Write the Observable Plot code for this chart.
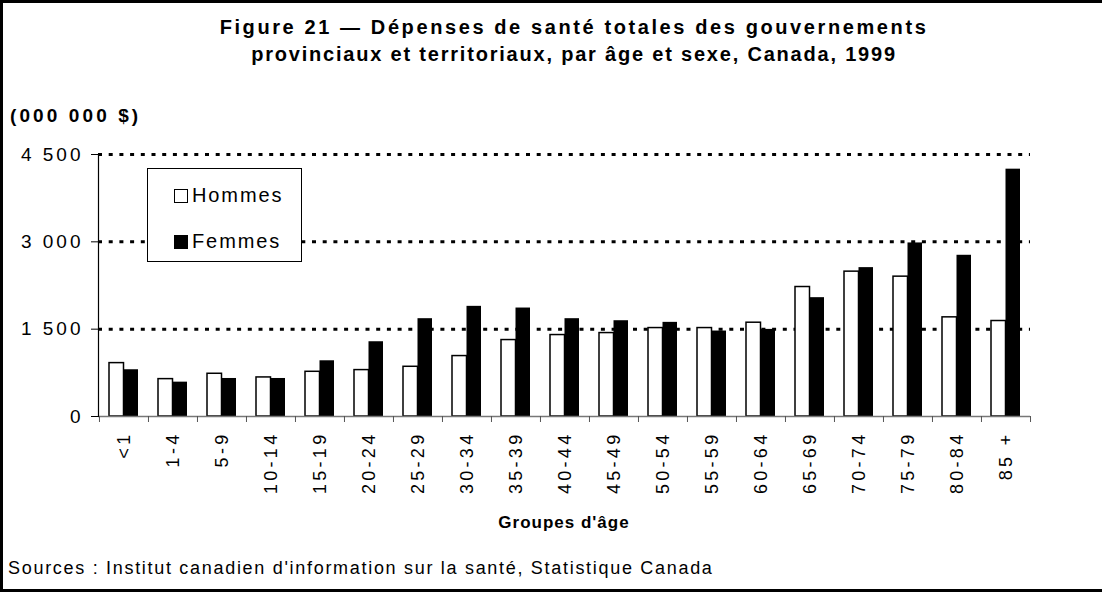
<!DOCTYPE html>
<html>
<head>
<meta charset="utf-8">
<script src="https://cdn.jsdelivr.net/npm/d3@7"></script>
<script src="https://cdn.jsdelivr.net/npm/@observablehq/plot@0.6"></script>
<style>
  html, body { margin: 0; padding: 0; background: white; }
  #wrap { position: relative; width: 1102px; height: 592px; box-sizing: border-box;
    border-left: 3px solid black; border-top: 3px solid black; border-bottom: 3px solid black;
    font-family: "Liberation Sans", Arial, sans-serif; overflow: hidden; }
  #chart { position: absolute; left: -3px; top: -3px; }
  .title { position: absolute; left: 0; width: 1142px; top: 11px; text-align: center;
    font-weight: bold; font-size: 20px; line-height: 27px; letter-spacing: 1.8px; }
  .title .l1 { letter-spacing: 2.6px; }
  .unit { position: absolute; left: 7px; top: 102px; font-weight: bold; font-size: 19px; letter-spacing: 3.1px; }
  .xlabel { position: absolute; left: 461px; width: 200px; text-align: center; top: 510px; font-weight: bold; font-size: 17px; letter-spacing: 1px; }
  .source { position: absolute; left: 5px; top: 555px; font-size: 18px; letter-spacing: 1.7px; }
  .legend { position: absolute; left: 144px; top: 165px; width: 155px; height: 94px; box-sizing: border-box;
    border: 1.5px solid black; background: white; font-size: 20px; letter-spacing: 1.9px; }
  .legend .item { position: absolute; left: 26px; height: 22px; line-height: 22px; }
  .legend .sw { display: inline-block; width: 14px; height: 14px; box-sizing: border-box; border: 1.5px solid black; vertical-align: -1px; margin-right: 4px; }
  .chart g[aria-label="x-axis tick label"] text { letter-spacing: 3.3px; font-size: 18px; }
  .chart g[aria-label="y-axis tick label"] text { letter-spacing: 3px; font-size: 19px; }
</style>
</head>
<body>
<div id="wrap">
  <div id="chart"></div>
  <div class="title"><span class="l1">Figure 21 — Dépenses de santé totales des gouvernements</span><br>provinciaux et territoriaux, par âge et sexe, Canada, 1999</div>
  <div class="unit">(000 000 $)</div>
  <div class="legend">
    <div class="item" style="top:15px"><span class="sw" style="background:white"></span>Hommes</div>
    <div class="item" style="top:61px"><span class="sw" style="background:black"></span>Femmes</div>
  </div>
  <div class="xlabel">Groupes d'âge</div>
  <div class="source">Sources : Institut canadien d'information sur la santé, Statistique Canada</div>
</div>
<script>
const ages = ["<1","1-4","5-9","10-14","15-19","20-24","25-29","30-34","35-39","40-44","45-49","50-54","55-59","60-64","65-69","70-74","75-79","80-84","85 +"];
const hommes = [917,642,734,671,768,797,854,1038,1313,1399,1433,1519,1519,1611,2224,2488,2402,1703,1640];
const femmes = [803,590,653,653,957,1284,1680,1892,1863,1680,1645,1617,1468,1496,2041,2557,2981,2769,4248];
const yTicks = [0,1500,3000,4500];
const gridTicks = [1500,3000,4500];

const data = ages.map((a,i) => ({age:a, h:hommes[i], f:femmes[i]}));
const fmt = d3.formatLocale({thousands:"\u00a0", grouping:[3], decimal:","}).format(",");

const W = 1102, H = 592, mL = 98, mR = 72, mT = 154, mB = 176;
const bw = (W - mL - mR) / ages.length;

const chart = Plot.plot({
  width: W, height: H,
  marginTop: mT, marginRight: mR, marginBottom: mB, marginLeft: mL,
  className: "chart",
  style: {fontFamily: "Liberation Sans, Arial, sans-serif", background: "transparent", color: "black"},
  x: {domain: ages, padding: 0, label: null},
  y: {domain: [0, 4500], label: null},
  marks: [
    Plot.ruleY(gridTicks, {stroke: "black", strokeWidth: 3, strokeDasharray: "4,6.7"}),
    Plot.barY(data, {x: "age", y: "h", fill: "white", stroke: "black", strokeWidth: 1.5, insetLeft: 10, insetRight: 24.5}),
    Plot.barY(data, {x: "age", y: "f", fill: "black", insetLeft: 24.5, insetRight: 10}),
    Plot.ruleY([0], {stroke: "#777", strokeWidth: 1.5}),
    Plot.frame({anchor: "left", stroke: "black", strokeWidth: 1.2}),
    Plot.axisY({ticks: yTicks, tickFormat: fmt, tickSize: 7, tickPadding: 8, fontSize: 19, label: null}),
    Plot.axisX({tickSize: 0, tickPadding: 15, tickRotate: -90, fontSize: 18, label: null}),
    Plot.axisX({tickSize: 6, tickFormat: () => "", dx: -bw/2, stroke: "#555", label: null}),
    Plot.axisX({ticks: [ages[ages.length-1]], tickSize: 6, tickFormat: () => "", dx: bw/2, stroke: "#555", label: null})
  ]
});
document.getElementById("chart").appendChild(chart);
</script>
</body>
</html>
